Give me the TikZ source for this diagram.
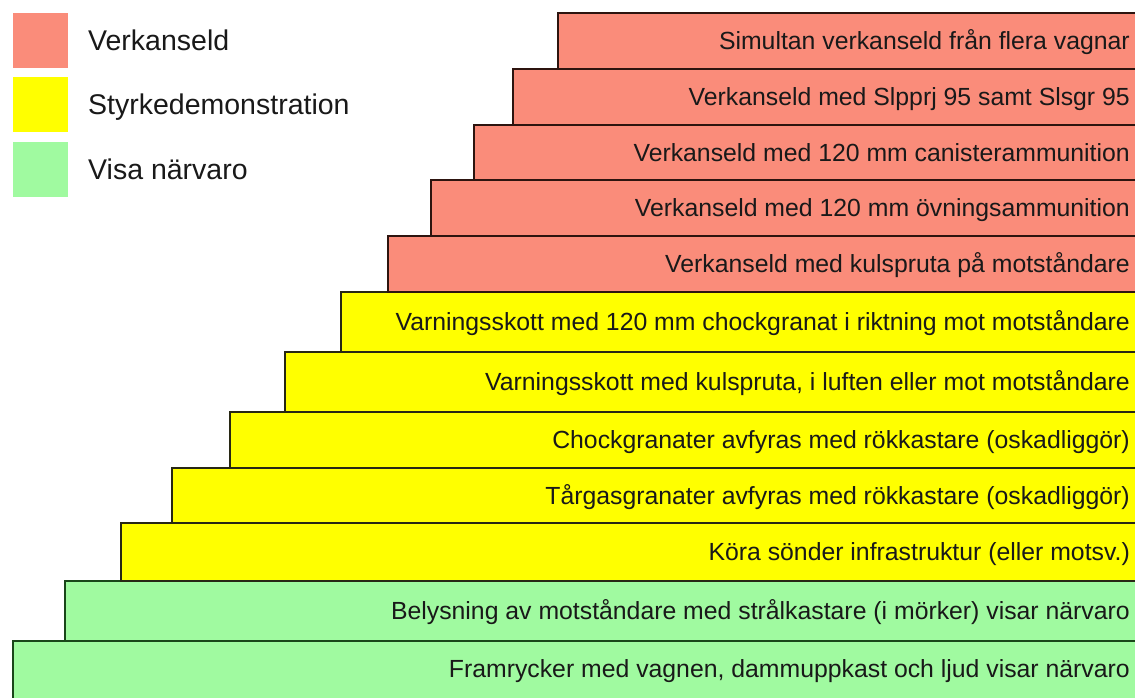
\documentclass[tikz,border=0pt]{standalone}
\usepackage{fontspec}
\setmainfont{Liberation Sans}
\definecolor{redfill}{RGB}{250,140,122}
\definecolor{yelfill}{RGB}{255,255,0}
\definecolor{grnfill}{RGB}{160,250,160}
\definecolor{redline}{RGB}{45,20,15}
\definecolor{yelline}{RGB}{40,40,20}
\definecolor{grnline}{RGB}{25,70,25}
\definecolor{txt}{RGB}{25,25,25}
\begin{document}
\begin{tikzpicture}[x=1pt,y=-1pt,
  stair/.style={draw, line width=1.4pt, anchor=north west, inner sep=0pt, outer sep=0pt},
  redrow/.style={stair, fill=redfill, draw=redline},
  yelrow/.style={stair, fill=yelfill, draw=yelline},
  grnrow/.style={stair, fill=grnfill, draw=grnline},
  lab/.style={anchor=base east, inner sep=0pt, text=txt, font=\fontsize{24.8}{28}\selectfont},
  legsq/.style={anchor=north west, inner sep=0pt, outer sep=0pt, minimum width=55pt, minimum height=55pt},
  legtxt/.style={anchor=base west, inner sep=0pt, text=txt, font=\fontsize{28.5}{32}\selectfont}]
\clip (0,0) rectangle (1135,697);
\fill[white] (0,0) rectangle (1135,697);
% rows (top to bottom)
\node[grnrow, minimum width=1140-13,  minimum height=60] (r12) at (13,641) {};
\node[grnrow, minimum width=1140-65,  minimum height=60] (r11) at (65,581) {};
\node[yelrow, minimum width=1140-121, minimum height=58] (r10) at (121,523) {};
\node[yelrow, minimum width=1140-172, minimum height=55] (r9) at (172,468) {};
\node[yelrow, minimum width=1140-230, minimum height=56] (r8) at (230,412) {};
\node[yelrow, minimum width=1140-285, minimum height=60] (r7) at (285,352) {};
\node[yelrow, minimum width=1140-341, minimum height=60] (r6) at (341,292) {};
\node[redrow, minimum width=1140-388, minimum height=56] (r5) at (388,236) {};
\node[redrow, minimum width=1140-431, minimum height=56] (r4) at (431,180) {};
\node[redrow, minimum width=1140-474, minimum height=55] (r3) at (474,125) {};
\node[redrow, minimum width=1140-513, minimum height=56] (r2) at (513,69) {};
\node[redrow, minimum width=1140-558, minimum height=56] (r1) at (558,13) {};
% labels
\node[lab] (t1) at (1130,49.5) {Simultan verkanseld från flera vagnar};
\node[lab] (t2) at (1130,105.5) {Verkanseld med Slpprj 95 samt Slsgr 95};
\node[lab] (t3) at (1130,161) {Verkanseld med 120 mm canisterammunition};
\node[lab] (t4) at (1130,216.5) {Verkanseld med 120 mm övningsammunition};
\node[lab] (t5) at (1130,272.5) {Verkanseld med kulspruta på motståndare};
\node[lab] (t6) at (1130,330.5) {Varningsskott med 120 mm chockgranat i riktning mot motståndare};
\node[lab] (t7) at (1130,390.5) {Varningsskott med kulspruta, i luften eller mot motståndare};
\node[lab] (t8) at (1130,448.5) {Chockgranater avfyras med rökkastare (oskadliggör)};
\node[lab] (t9) at (1130,504) {Tårgasgranater avfyras med rökkastare (oskadliggör)};
\node[lab] (t10) at (1130,560.5) {Köra sönder infrastruktur (eller motsv.)};
\node[lab] (t11) at (1130,619.5) {Belysning av motståndare med strålkastare (i mörker) visar närvaro};
\node[lab] (t12) at (1130,677.5) {Framrycker med vagnen, dammuppkast och ljud visar närvaro};
% legend
\node[legsq, fill=redfill] (l1) at (13,13) {};
\node[legsq, fill=yelfill] (l2) at (13,77) {};
\node[legsq, fill=grnfill] (l3) at (13,142) {};
\node[legtxt] (lt1) at (88,50) {Verkanseld};
\node[legtxt] (lt2) at (88,114.5) {Styrkedemonstration};
\node[legtxt] (lt3) at (88,179.5) {Visa närvaro};
\end{tikzpicture}
\end{document}
